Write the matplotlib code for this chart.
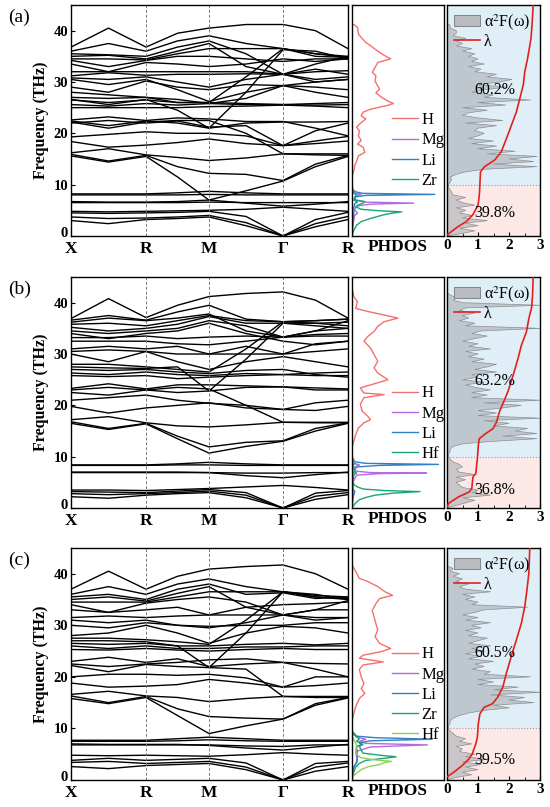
import matplotlib.pyplot as plt
from matplotlib.patches import Patch
from matplotlib.lines import Line2D
from matplotlib.transforms import ScaledTranslation

plt.rcParams['font.family'] = ['Liberation Serif', 'DejaVu Serif']
plt.rcParams['mathtext.fontset'] = 'stix'

# k-path: X, mid, R, mid, M, mid, Gamma, mid, R (distances along the path)
k_pos = [0, 37.5, 75, 106.5, 138, 175, 212, 244.5, 277]
k_ticks = [0, 75, 138, 212, 277]
k_labels = ['X', 'R', 'M', 'Γ', 'R']

# ---------------- panel (a) ----------------
bands_a = [
    [3.0, 2.4, 3.2, 3.4, 3.7, 2.0, 0.0, 1.8, 3.2],
    [3.7, 3.4, 3.5, 3.7, 4.0, 2.6, 0.0, 2.4, 3.8],
    [4.5, 4.4, 4.5, 4.6, 4.8, 3.8, 0.0, 3.2, 4.6],
    [4.8, 4.7, 4.8, 4.9, 5.0, 5.2, 5.6, 5.2, 4.8],
    [6.5, 6.5, 6.5, 6.5, 6.6, 6.5, 6.5, 6.5, 6.5],
    [6.7, 6.6, 6.6, 6.7, 7.0, 6.4, 5.8, 6.2, 6.7],
    [8.0, 8.0, 8.0, 8.0, 8.1, 8.0, 8.0, 8.0, 8.0],
    [8.2, 8.2, 8.2, 8.4, 8.7, 8.4, 8.2, 8.2, 8.2],
    [15.6, 14.4, 15.5, 11.5, 7.0, 8.8, 10.7, 13.5, 15.5],
    [15.9, 14.6, 15.7, 13.5, 12.2, 12.0, 10.8, 14.0, 15.7],
    [16.2, 17.0, 15.8, 15.3, 14.7, 15.2, 16.0, 15.8, 15.7],
    [18.4, 17.3, 17.7, 18.2, 18.9, 18.0, 17.6, 18.0, 18.5],
    [19.3, 19.8, 20.3, 20.0, 20.0, 19.5, 17.6, 18.5, 19.4],
    [22.2, 21.0, 22.2, 22.5, 22.5, 20.0, 16.0, 16.0, 16.0],
    [22.4, 21.5, 22.4, 22.0, 21.0, 22.0, 22.2, 22.2, 22.3],
    [22.6, 23.2, 22.5, 23.0, 22.8, 22.3, 22.3, 21.0, 19.5],
    [22.0, 22.5, 22.0, 22.4, 21.2, 21.5, 17.6, 20.5, 22.0],
    [25.0, 25.0, 25.0, 25.0, 25.2, 25.3, 25.5, 25.3, 25.0],
    [25.6, 25.3, 25.8, 25.5, 25.8, 25.6, 25.6, 25.5, 25.6],
    [26.5, 26.0, 26.5, 26.0, 26.0, 25.8, 25.6, 25.8, 26.0],
    [27.0, 26.8, 27.0, 26.6, 25.8, 26.8, 29.3, 28.0, 27.0],
    [26.6, 25.6, 26.6, 24.5, 21.0, 28.0, 36.3, 36.0, 34.5],
    [28.0, 27.5, 27.0, 26.0, 26.0, 31.0, 36.5, 35.0, 34.8],
    [29.0, 28.0, 30.2, 29.0, 28.5, 29.5, 29.3, 29.0, 28.5],
    [30.5, 29.5, 30.5, 28.5, 26.2, 28.0, 29.3, 30.0, 30.5],
    [30.8, 30.5, 31.0, 30.0, 29.0, 30.5, 31.5, 30.5, 31.0],
    [31.2, 31.8, 31.3, 31.5, 31.5, 31.6, 31.5, 32.5, 31.5],
    [32.0, 32.0, 32.0, 32.0, 32.0, 32.0, 31.5, 32.0, 32.2],
    [33.5, 32.0, 33.8, 33.5, 33.0, 33.5, 34.5, 34.0, 34.5],
    [34.2, 33.0, 34.2, 35.0, 35.0, 34.5, 34.0, 34.5, 34.5],
    [34.5, 34.5, 34.3, 35.5, 36.5, 36.5, 36.5, 35.5, 34.8],
    [35.0, 35.2, 34.5, 36.0, 37.5, 33.0, 31.5, 33.5, 35.0],
    [35.5, 35.3, 35.0, 36.8, 38.0, 35.5, 31.5, 30.0, 30.5],
    [36.0, 37.5, 36.0, 38.0, 39.0, 37.5, 36.5, 35.5, 35.0],
    [36.8, 40.5, 36.8, 39.5, 40.5, 41.2, 41.2, 40.0, 36.5],
]
h_freq_a = [41.2, 40.6, 39.3, 38.7, 37.7, 37.1, 36.4, 35.4, 34.9, 34.5, 33.8, 32.8,
            31.9, 31.2, 30.2, 29.2, 28.6, 27.9, 26.9, 26.2, 25.8, 25.4, 24.7, 24.1,
            23.4, 22.8, 22.1, 21.2, 20.5, 19.5, 18.6, 17.9, 17.3, 16.3, 15.6, 14.6,
            13.7, 12.7, 11.7, 0.0]
h_dos_a = [0.02, 0.06, 0.07, 0.10, 0.15, 0.20, 0.25, 0.33, 0.38, 0.42, 0.28, 0.25,
           0.22, 0.26, 0.25, 0.28, 0.30, 0.26, 0.33, 0.40, 0.45, 0.38, 0.20, 0.12,
           0.10, 0.15, 0.10, 0.05, 0.08, 0.07, 0.10, 0.06, 0.12, 0.14, 0.07, 0.05,
           0.03, 0.02, 0.0, 0.0]
mg_freq_a = [0.0, 2.0, 4.0, 4.5, 5.0, 5.8, 6.2, 6.4, 6.6, 7.0, 7.8, 8.1, 8.4, 9.0]
mg_dos_a = [0.0, 0.01, 0.03, 0.06, 0.03, 0.04, 0.20, 0.67, 0.15, 0.03, 0.04, 0.10, 0.03, 0.0]
li_freq_a = [0.0, 3.0, 4.5, 5.5, 6.3, 6.6, 7.0, 7.6, 7.9, 8.1, 8.3, 8.6, 9.0, 10.0]
li_dos_a = [0.0, 0.01, 0.02, 0.02, 0.03, 0.06, 0.02, 0.03, 0.15, 0.90, 0.12, 0.04, 0.01, 0.0]
zr_freq_a = [0.0, 1.1, 2.1, 2.8, 3.4, 4.1, 4.4, 4.7, 4.9, 5.2, 5.6, 6.0, 6.4, 6.7,
             7.0, 7.5, 8.0, 8.3, 9.0]
zr_dos_a = [0.0, 0.02, 0.05, 0.10, 0.20, 0.34, 0.42, 0.54, 0.30, 0.10, 0.05, 0.06,
            0.12, 0.14, 0.04, 0.03, 0.05, 0.02, 0.0]
a2f_a = [0.5, 0.9, 0.4, 1.0, 0.6, 1.3, 0.5, 0.8, 0.4, 0.6,
         0.3, 0.9, 0.5, 0.3, 0.6, 0.2, 0.15, 0.1, 0.05, 0.05,
         0.1, 0.15, 0.1, 0.3, 0.6, 1.2, 2.9, 1.5, 2.8, 2.0,
         2.9, 1.3, 2.2, 1.0, 1.6, 0.8, 1.5, 0.7, 1.0, 1.2,
         0.9, 1.0, 1.6, 0.6, 1.8, 1.0, 0.5, 0.7, 1.3, 0.5,
         1.9, 1.0, 2.7, 1.2, 1.5, 0.8, 1.2, 1.9, 1.0, 1.7,
         2.1, 1.3, 1.6, 0.9, 1.1, 0.7, 1.2, 0.8, 1.0, 0.7,
         0.9, 0.5, 0.8, 0.3, 0.5, 0.3, 0.6, 0.2, 0.3, 0.3,
         0.1, 0.1, 0.0]
lam_freq_a = [0.2, 1.8, 2.8, 4.1, 6.0, 7.3, 8.6, 9.9, 12.5, 13.5, 14.8, 16.4, 19.0,
              21.6, 24.2, 26.8, 29.4, 32.0, 34.6, 38.5, 41.8, 45.0]
lam_a = [0.0, 0.35, 0.62, 0.83, 1.00, 1.03, 1.05, 1.06, 1.08, 1.21, 1.54, 1.75, 1.92,
         2.08, 2.24, 2.35, 2.46, 2.51, 2.60, 2.71, 2.75, 2.78]

# ---------------- panel (b) ----------------
bands_b = [
    [2.2, 1.9, 2.5, 2.8, 3.0, 2.0, 0.0, 1.7, 2.6],
    [2.8, 2.6, 2.8, 3.0, 3.3, 2.5, 0.0, 2.3, 3.0],
    [3.2, 3.1, 3.0, 3.3, 3.6, 3.0, 0.0, 2.9, 3.4],
    [3.5, 3.5, 3.4, 3.6, 3.8, 4.1, 4.4, 4.0, 3.5],
    [6.9, 6.9, 6.9, 6.9, 6.9, 6.8, 6.8, 6.9, 6.9],
    [7.0, 7.0, 7.0, 7.0, 6.9, 6.3, 5.9, 6.5, 7.0],
    [8.3, 8.3, 8.3, 8.4, 8.4, 8.3, 8.3, 8.3, 8.3],
    [8.4, 8.4, 8.4, 8.6, 8.9, 8.6, 8.4, 8.4, 8.4],
    [16.5, 15.3, 16.4, 13.5, 10.7, 12.0, 13.0, 15.0, 16.5],
    [16.8, 15.5, 16.5, 14.0, 11.9, 12.8, 13.1, 15.5, 16.6],
    [17.2, 17.8, 16.6, 16.0, 15.8, 16.2, 16.7, 16.7, 16.7],
    [19.8, 18.5, 19.5, 20.0, 20.5, 19.5, 19.2, 19.0, 19.8],
    [21.0, 21.5, 22.0, 21.0, 20.4, 20.0, 19.2, 20.5, 21.0],
    [22.5, 22.0, 23.0, 23.5, 23.2, 20.0, 16.7, 16.6, 16.6],
    [23.0, 23.5, 23.0, 22.5, 22.8, 23.5, 23.6, 23.0, 23.0],
    [23.3, 24.2, 23.2, 24.0, 24.0, 23.8, 23.6, 23.4, 23.2],
    [25.8, 25.6, 25.8, 25.2, 25.5, 25.8, 26.0, 25.8, 25.8],
    [26.3, 26.0, 26.5, 26.0, 25.8, 26.2, 26.0, 26.3, 26.5],
    [27.0, 26.8, 27.0, 26.5, 26.2, 26.8, 27.0, 26.0, 25.5],
    [27.5, 27.3, 27.2, 27.5, 22.8, 29.0, 36.0, 35.5, 35.0],
    [28.0, 28.0, 27.5, 27.0, 26.5, 31.0, 36.3, 36.0, 36.2],
    [30.0, 28.5, 30.5, 28.5, 27.0, 28.5, 29.5, 28.5, 27.5],
    [30.5, 30.8, 30.5, 30.0, 30.0, 30.0, 30.0, 30.5, 31.0],
    [31.0, 31.5, 31.0, 31.5, 30.0, 31.5, 30.0, 32.0, 32.5],
    [32.5, 32.5, 32.5, 32.0, 31.8, 32.5, 33.3, 33.5, 33.5],
    [33.2, 33.2, 33.5, 33.0, 33.3, 33.5, 33.3, 33.8, 34.0],
    [34.0, 33.0, 34.0, 34.5, 36.0, 34.0, 32.5, 31.8, 32.5],
    [34.5, 34.0, 34.5, 35.0, 36.5, 35.5, 33.3, 34.5, 35.0],
    [35.2, 34.5, 35.0, 35.8, 37.3, 36.0, 36.0, 36.0, 35.5],
    [35.8, 36.0, 35.5, 36.5, 37.5, 36.5, 36.3, 36.5, 36.8],
    [36.2, 37.0, 36.5, 37.0, 37.8, 34.5, 33.3, 34.5, 36.5],
    [36.6, 37.5, 36.6, 38.2, 39.5, 36.8, 36.3, 36.5, 36.8],
    [36.9, 40.8, 37.1, 39.5, 41.2, 41.8, 42.1, 40.5, 37.0],
]
h_freq_b = [42.2, 41.2, 40.2, 38.9, 38.3, 37.6, 37.0, 36.3, 35.4, 34.4, 33.4, 32.5,
            31.2, 29.9, 28.6, 27.3, 26.3, 25.0, 24.4, 23.4, 22.4, 22.1, 21.5, 20.2,
            18.9, 17.9, 17.2, 16.6, 15.6, 14.3, 13.0, 12.0, 0.0]
h_dos_b = [0.01, 0.02, 0.06, 0.04, 0.17, 0.35, 0.50, 0.35, 0.28, 0.24, 0.17, 0.13,
           0.20, 0.24, 0.28, 0.24, 0.28, 0.39, 0.28, 0.09, 0.13, 0.35, 0.13, 0.09,
           0.11, 0.17, 0.20, 0.13, 0.07, 0.04, 0.02, 0.0, 0.0]
mg_freq_b = [0.0, 2.0, 3.0, 3.3, 3.6, 5.0, 6.4, 6.7, 6.8, 6.9, 7.2, 8.0, 8.4, 8.7, 9.5]
mg_dos_b = [0.0, 0.01, 0.02, 0.03, 0.01, 0.01, 0.05, 0.30, 0.81, 0.20, 0.03, 0.03, 0.08, 0.02, 0.0]
li_freq_b = [0.0, 2.0, 3.2, 3.6, 5.0, 6.5, 6.8, 7.2, 8.0, 8.3, 8.5, 8.7, 9.0, 10.0]
li_dos_b = [0.0, 0.01, 0.03, 0.01, 0.01, 0.02, 0.05, 0.02, 0.05, 0.30, 0.94, 0.15, 0.03, 0.0]
hf_freq_b = [0.0, 0.3, 1.0, 1.6, 2.0, 2.5, 2.9, 3.2, 3.4, 3.7, 4.1, 4.4, 5.0, 6.8,
             7.0, 8.4, 8.6, 9.0]
hf_dos_b = [0.0, 0.01, 0.04, 0.08, 0.14, 0.25, 0.45, 0.74, 0.35, 0.12, 0.06, 0.03,
            0.01, 0.01, 0.03, 0.01, 0.03, 0.0]
a2f_b = [0.3, 0.6, 0.9, 0.5, 1.4, 0.8, 1.0, 0.5, 0.4, 0.3,
         0.6, 0.3, 0.9, 0.4, 0.3, 0.5, 0.4, 0.2, 0.1, 0.05,
         0.05, 0.1, 0.1, 0.2, 0.5, 1.5, 2.9, 1.8, 2.9, 2.2,
         2.6, 1.5, 2.0, 1.2, 3.0, 1.0, 1.6, 1.0, 1.8, 2.4,
         1.2, 3.0, 0.8, 1.3, 0.8, 1.4, 0.9, 0.6, 1.2, 0.5,
         1.0, 0.8, 1.6, 0.9, 1.3, 1.6, 0.8, 1.2, 0.7, 1.0,
         0.6, 1.4, 0.7, 1.0, 0.5, 0.9, 1.3, 0.8, 1.1, 3.0,
         0.6, 0.9, 0.4, 0.7, 0.5, 0.9, 0.4, 0.6, 3.0, 0.5,
         0.2, 0.3, 0.1, 0.0]
lam_freq_b = [0.2, 0.9, 2.2, 3.1, 3.8, 5.1, 6.1, 6.7, 8.0, 9.6, 12.2, 13.5, 14.5,
              15.5, 16.8, 18.7, 20.3, 22.6, 25.8, 29.1, 31.7, 34.3, 36.9, 39.1,
              41.4, 45.0]
lam_b = [0.0, 0.05, 0.38, 0.71, 0.80, 0.82, 0.84, 0.93, 0.95, 0.98, 1.01, 1.04, 1.25,
         1.49, 1.60, 1.69, 1.80, 1.96, 2.13, 2.29, 2.40, 2.56, 2.64, 2.73, 2.76, 2.78]

# ---------------- panel (c) ----------------
bands_c = [
    [2.6, 2.2, 2.8, 3.0, 3.2, 2.0, 0.0, 1.7, 2.6],
    [3.4, 3.6, 3.2, 3.4, 3.6, 2.5, 0.0, 2.5, 3.3],
    [3.8, 4.2, 3.8, 4.0, 4.2, 3.3, 0.0, 3.2, 3.6],
    [4.8, 4.7, 4.8, 4.7, 4.6, 4.9, 5.3, 5.0, 4.8],
    [6.8, 6.8, 6.8, 6.8, 6.8, 6.6, 6.5, 6.8, 6.8],
    [7.0, 6.9, 6.9, 6.9, 6.7, 6.2, 5.8, 6.4, 6.9],
    [7.5, 7.5, 7.5, 7.6, 7.8, 7.6, 7.5, 7.5, 7.5],
    [7.7, 7.7, 7.7, 8.0, 8.3, 8.0, 7.7, 7.7, 7.7],
    [15.8, 14.8, 16.0, 12.5, 9.0, 10.5, 11.8, 14.5, 15.9],
    [16.3, 15.0, 16.2, 13.8, 12.3, 12.0, 11.8, 14.8, 16.0],
    [16.6, 17.2, 16.3, 16.0, 15.2, 15.8, 16.2, 16.2, 16.2],
    [18.8, 18.0, 18.2, 18.5, 19.5, 18.8, 18.0, 18.3, 18.8],
    [20.0, 20.5, 20.5, 20.3, 20.5, 19.8, 18.0, 20.0, 20.0],
    [22.2, 21.0, 22.4, 22.0, 21.8, 21.5, 16.2, 16.0, 16.0],
    [22.5, 22.0, 22.5, 22.8, 23.3, 23.5, 22.8, 22.6, 22.5],
    [23.0, 23.8, 22.8, 23.5, 22.0, 22.5, 22.8, 21.5, 20.0],
    [25.3, 25.2, 25.5, 25.2, 25.0, 25.3, 25.5, 25.3, 25.3],
    [26.0, 25.5, 26.0, 25.5, 25.5, 25.8, 25.8, 26.0, 26.0],
    [26.5, 26.3, 26.5, 26.0, 26.0, 26.3, 26.5, 26.2, 26.5],
    [27.0, 27.0, 26.8, 26.0, 21.8, 28.5, 36.5, 36.0, 35.0],
    [27.5, 27.5, 27.2, 26.8, 26.3, 31.0, 36.5, 35.5, 35.2],
    [28.0, 28.5, 30.0, 28.5, 26.5, 28.5, 29.8, 29.5, 28.5],
    [30.0, 29.5, 30.5, 30.0, 29.8, 30.0, 30.0, 30.5, 30.5],
    [31.0, 30.5, 31.0, 30.0, 29.5, 30.5, 32.0, 31.5, 31.5],
    [31.5, 31.8, 31.5, 31.8, 32.0, 32.0, 32.0, 33.0, 33.0],
    [33.0, 32.5, 33.0, 33.5, 32.0, 33.5, 34.0, 34.2, 34.5],
    [34.0, 32.5, 34.3, 35.0, 35.5, 34.5, 32.0, 33.0, 34.8],
    [34.5, 34.5, 34.5, 35.5, 36.5, 36.5, 36.5, 35.5, 35.0],
    [35.0, 35.5, 34.7, 36.2, 37.5, 33.5, 32.0, 31.0, 31.5],
    [35.5, 36.0, 35.0, 37.0, 38.0, 36.0, 36.3, 35.2, 35.5],
    [36.0, 37.5, 36.0, 38.0, 39.0, 37.5, 36.5, 35.8, 35.5],
    [37.0, 40.5, 37.0, 39.5, 40.9, 41.4, 41.7, 40.0, 37.0],
]
h_freq_c = [41.4, 40.1, 39.1, 38.5, 37.5, 36.5, 35.8, 35.2, 34.2, 32.9, 31.6, 30.3,
            29.1, 27.8, 26.5, 25.5, 24.9, 24.2, 23.6, 22.9, 22.3, 21.4, 20.0, 18.7,
            17.7, 16.8, 15.8, 14.2, 12.9, 11.6, 0.0]
h_dos_c = [0.01, 0.05, 0.08, 0.17, 0.28, 0.36, 0.44, 0.30, 0.26, 0.22, 0.24, 0.26,
           0.28, 0.25, 0.30, 0.42, 0.32, 0.12, 0.08, 0.34, 0.12, 0.08, 0.10, 0.13,
           0.10, 0.14, 0.08, 0.04, 0.02, 0.0, 0.0]
mg_freq_c = [0.0, 2.5, 3.6, 4.5, 5.5, 6.4, 6.8, 7.1, 7.5, 7.9, 8.3, 9.5]
mg_dos_c = [0.0, 0.02, 0.06, 0.05, 0.04, 0.20, 0.82, 0.15, 0.08, 0.15, 0.05, 0.0]
li_freq_c = [0.0, 2.5, 3.5, 4.5, 6.5, 6.8, 7.2, 7.6, 7.9, 8.2, 8.5, 9.5]
li_dos_c = [0.0, 0.02, 0.05, 0.06, 0.05, 0.10, 0.08, 0.20, 0.87, 0.25, 0.05, 0.0]
zr_freq_c = [0.0, 1.5, 2.5, 3.2, 3.8, 4.2, 4.5, 4.8, 5.2, 5.8, 6.5, 6.9, 7.5, 8.0, 9.0]
zr_dos_c = [0.0, 0.02, 0.04, 0.08, 0.15, 0.35, 0.48, 0.30, 0.12, 0.10, 0.08, 0.12,
            0.05, 0.08, 0.0]
hf_freq_c = [0.0, 0.6, 1.2, 2.0, 2.6, 3.0, 3.4, 3.6, 3.9, 4.3, 4.8, 5.5, 6.8, 7.5, 8.5]
hf_dos_c = [0.0, 0.01, 0.04, 0.10, 0.18, 0.30, 0.36, 0.43, 0.25, 0.10, 0.06, 0.04,
            0.05, 0.03, 0.0]
a2f_c = [0.3, 0.8, 0.5, 1.0, 0.6, 1.1, 0.5, 1.3, 0.6, 0.9,
         0.4, 0.5, 0.3, 0.8, 0.4, 0.6, 0.3, 0.2, 0.1, 0.05,
         0.05, 0.1, 0.1, 0.2, 0.4, 0.7, 1.2, 2.0, 1.5, 2.8,
         2.0, 2.5, 1.4, 3.0, 1.5, 2.3, 1.0, 1.5, 1.0, 2.7,
         1.2, 1.4, 0.8, 1.2, 0.9, 1.5, 0.7, 1.1, 0.6, 1.2,
         0.8, 1.4, 0.7, 1.0, 1.3, 0.7, 1.0, 0.6, 1.1, 0.8,
         1.4, 0.6, 1.0, 0.5, 0.9, 1.2, 2.6, 0.8, 1.0, 0.6,
         0.9, 0.5, 1.4, 0.6, 0.4, 0.7, 0.3, 0.5, 0.2, 0.4,
         0.1, 0.2, 0.0]
lam_freq_c = [0.6, 1.5, 2.8, 4.1, 5.1, 5.7, 7.0, 8.3, 10.9, 12.8, 14.1, 14.8, 16.1,
              18.0, 20.6, 23.9, 27.2, 30.4, 33.7, 36.9, 40.1, 45.0]
lam_c = [0.0, 0.22, 0.49, 0.71, 0.82, 0.85, 0.93, 0.98, 1.01, 1.06, 1.20, 1.47, 1.64,
         1.80, 1.91, 2.07, 2.24, 2.40, 2.51, 2.58, 2.64, 2.67]

pct_hi_txt = {'(a)': '60.2%', '(b)': '63.2%', '(c)': '60.5%'}
pct_lo_txt = {'(a)': '39.8%', '(b)': '36.8%', '(c)': '39.5%'}

a2f_step = 0.5   # THz spacing of the alpha^2F samples

colors = {'H': '#f4706c', 'Mg': '#b36ae2', 'Li': '#2f80c4',
          'Zr': '#17a673', 'Hf': '#17a673', 'Hf2': '#8fd14f'}
lam_color = '#e3211c'
a2f_fill = '#a9aeb3'


def draw_panel(fig, bottom, height, tag, bands, dos_curves, a2f, lam_freq, lam,
               pct_hi, pct_lo, legend_y):
    ax_b = fig.add_axes([71 / 550, bottom, 277 / 550, height])
    ax_d = fig.add_axes([352 / 550, bottom, 92 / 550, height])
    ax_e = fig.add_axes([447 / 550, bottom, 93 / 550, height])

    # band structure
    for band in bands:
        ax_b.plot(k_pos, band, color='black', lw=1.0)
    for k in k_ticks[1:-1]:
        ax_b.axvline(k, color='#777777', ls='--', lw=0.7, dashes=(3, 2))
    ax_b.set_xlim(k_ticks[0], k_ticks[-1])
    ax_b.set_ylim(0, 45)
    ax_b.set_xticks(k_ticks)
    ax_b.set_xticklabels(k_labels, fontsize=12.5, fontweight='bold')
    ax_b.tick_params(axis='x', length=0, pad=3.5)
    ax_b.set_yticks([0, 10, 20, 30, 40])
    ax_b.tick_params(axis='y', direction='in', length=3, pad=2, labelsize=10.5)
    for t in ax_b.get_yticklabels():
        t.set_fontweight('bold')
    # lift the "0" label a little, as in the original
    lbl0 = ax_b.yaxis.get_major_ticks()[0].label1
    lbl0.set_transform(lbl0.get_transform() +
                       ScaledTranslation(0, 3 / 72, fig.dpi_scale_trans))
    ax_b.set_ylabel('Frequency (THz)', fontsize=11.5, fontweight='bold', labelpad=3)
    fig.text(8 / 550, bottom + height - 12 / 807, tag, fontsize=14, va='center')

    # projected phonon DOS
    handles = []
    for name, freq, val, col in dos_curves:
        ln, = ax_d.plot(val, freq, color=col, lw=1.0)
        handles.append((ln, name))
    ax_d.set_xlim(0, 1.0)
    ax_d.set_ylim(0, 45)
    ax_d.set_xticks([])
    ax_d.set_yticks([])
    ax_d.set_xlabel('PHDOS', fontsize=12.5, fontweight='bold', labelpad=2.5)
    ax_d.legend([h[0] for h in handles], [h[1] for h in handles],
                loc='center left', bbox_to_anchor=(0.43, legend_y),
                frameon=False, fontsize=12, handlelength=1.6, handletextpad=0.2,
                labelspacing=0.25, borderpad=0, borderaxespad=0)

    # Eliashberg function and lambda
    freq = [a2f_step * (i + 1) for i in range(len(a2f))]
    ax_e.axhspan(10, 45, color='#dfeef7', zorder=0, lw=0)
    ax_e.axhspan(0, 10, color='#fde8e8', zorder=0, lw=0)
    ax_e.axhline(10, color='#9a9a9a', ls=':', lw=0.8)
    ax_e.fill_betweenx([0] + freq, 0, [0] + a2f, facecolor=a2f_fill, alpha=0.6,
                       lw=0, zorder=2)
    ax_e.plot([0] + a2f, [0] + freq, color='#8c8f92', lw=0.5, zorder=2)
    ax_e.plot(lam, lam_freq, color=lam_color, lw=1.2, zorder=3)
    ax_e.set_xlim(0, 3)
    ax_e.set_ylim(0, 45)
    ax_e.set_xticks([0, 1, 2, 3])
    ax_e.set_xticks([0.5, 1.5, 2.5], minor=True)
    ax_e.set_yticks([])
    ax_e.tick_params(axis='x', which='both', direction='in', pad=2, labelsize=11)
    ax_e.tick_params(axis='x', which='major', length=3)
    ax_e.tick_params(axis='x', which='minor', length=2)
    for t in ax_e.get_xticklabels():
        t.set_fontweight('bold')
    ax_e.text(1.55, pct_hi, pct_hi_txt[tag], fontsize=11.5, ha='center', va='center', zorder=4)
    ax_e.text(1.55, pct_lo, pct_lo_txt[tag], fontsize=11.5, ha='center', va='center', zorder=4)
    ax_e.legend([Patch(facecolor='#b8bcc0', edgecolor='#777777', lw=0.6),
                 Line2D([], [], color=lam_color, lw=1.2)],
                ['α$^{2}$F(ω)', 'λ'], loc='upper left', frameon=False,
                fontsize=11.5, handlelength=1.6, handletextpad=0.25,
                labelspacing=0.1, borderaxespad=0.25, borderpad=0.2)

    for ax in (ax_b, ax_d, ax_e):
        for s in ax.spines.values():
            s.set_linewidth(1.0)


fig = plt.figure(figsize=(5.5, 8.07), dpi=100)

draw_panel(fig, 0.7076, 0.2862, '(a)', bands_a,
           [('H', h_freq_a, h_dos_a, colors['H']),
            ('Mg', mg_freq_a, mg_dos_a, colors['Mg']),
            ('Li', li_freq_a, li_dos_a, colors['Li']),
            ('Zr', zr_freq_a, zr_dos_a, colors['Zr'])],
           a2f_a, lam_freq_a, lam_a, 28.4, 4.4, 0.37)

draw_panel(fig, 0.3705, 0.2862, '(b)', bands_b,
           [('H', h_freq_b, h_dos_b, colors['H']),
            ('Mg', mg_freq_b, mg_dos_b, colors['Mg']),
            ('Li', li_freq_b, li_dos_b, colors['Li']),
            ('Hf', hf_freq_b, hf_dos_b, colors['Hf'])],
           a2f_b, lam_freq_b, lam_b, 24.8, 3.5, 0.365)

draw_panel(fig, 0.0335, 0.2875, '(c)', bands_c,
           [('H', h_freq_c, h_dos_c, colors['H']),
            ('Mg', mg_freq_c, mg_dos_c, colors['Mg']),
            ('Li', li_freq_c, li_dos_c, colors['Li']),
            ('Zr', zr_freq_c, zr_dos_c, colors['Zr']),
            ('Hf', hf_freq_c, hf_dos_c, colors['Hf2'])],
           a2f_c, lam_freq_c, lam_c, 24.7, 3.9, 0.367)

fig.savefig('out.png', dpi=100)
